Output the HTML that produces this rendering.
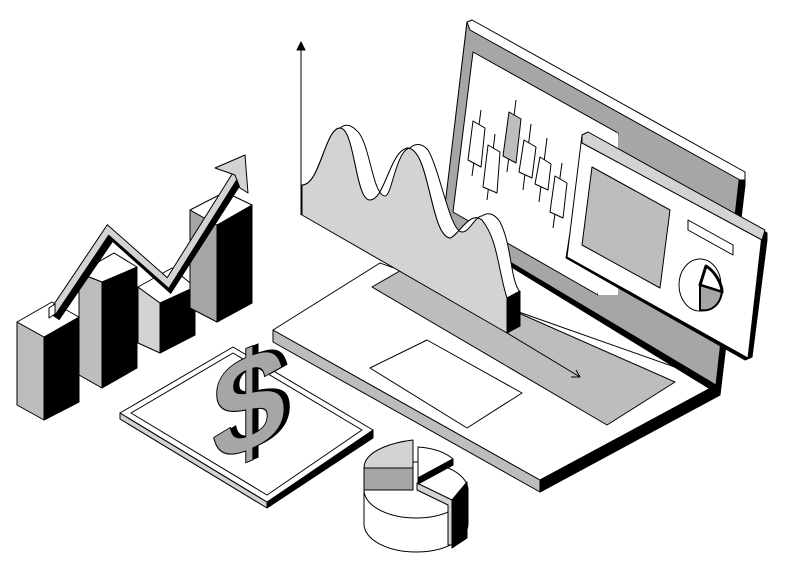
<!DOCTYPE html>
<html><head><style>html,body{margin:0;padding:0;background:#fff}svg{display:block}</style></head>
<body>
<svg width="785" height="573" viewBox="0 0 785 573" xmlns="http://www.w3.org/2000/svg" stroke="#000" stroke-width="1" stroke-linejoin="round">
<!-- laptop base -->
<polygon points="273,330 540,480 540,492 273,342" fill="#bdbdbd"/>
<polygon points="540,480 720,383 720,395 540,492" fill="#000"/>
<polygon points="273,330 380,263 720,383 540,480" fill="#fff"/>
<!-- screen back -->
<polygon points="467,22 745,175 745,185 720,395 443,225" fill="#000"/>
<polygon points="467,22 740,172 716,385 443,222" fill="#a6a6a6"/>
<polygon points="467,22 472,20 745,172 745,180 740,180 470,30" fill="#fff"/>
<!-- inner screen -->
<polygon points="473,52 618,133 598,295 453,212" fill="#fff"/>
<!-- candles -->
<g fill="#fff">
<line x1="481" y1="110" x2="472" y2="176"/><polygon points="473,121 485,128 481,167 468,160"/>
<line x1="495" y1="134" x2="487" y2="200"/><polygon points="488,145 500,152 497,193 483,187"/>
<line x1="516" y1="100" x2="507" y2="172"/><polygon points="509,112 521,119 516,163 503,156" fill="#bdbdbd"/>
<line x1="531" y1="124" x2="523" y2="190"/><polygon points="524,140 536,147 532,178 519,172"/>
<line x1="547" y1="138" x2="539" y2="202"/><polygon points="540,157 551,164 548,190 535,184"/>
<line x1="562" y1="163" x2="553" y2="228"/><polygon points="555,176 567,183 563,218 550,212"/>
</g>
<!-- keyboard -->
<polygon points="372,287 410,265 675,382 607,425" fill="#bdbdbd"/>
<!-- touchpad -->
<polygon points="370,368 427,340 522,393 467,428" fill="#fff"/>
<!-- wave panel -->
<path d="M302,215 L507,333 L507,298 C500,270 498,240 482,220 C470,210 458,236 450,238 C430,235 430,150 408,148 C390,150 385,200 370,200 C355,200 355,128 340,128 C325,128 320,185 302,185 Z" fill="#d3d3d3"/>
<path d="M302,185 C320,185 325,128 340,128 C345,124 350,124 356,130 C370,140 372,195 385,196 C392,196 396,150 410,148 C415,143 422,143 428,150 C440,170 450,232 462,232 C470,232 475,216 482,216 C488,212 494,213 500,222 C512,245 510,280 520,292 L507,298 C498,270 498,240 482,220 C470,210 458,236 450,238 C430,235 430,150 408,148 C390,150 385,200 370,200 C355,200 355,128 340,128 C325,128 320,185 302,185 Z" fill="#fff"/>
<polygon points="507,298 520,291 520,326 507,333" fill="#000"/>
<line x1="301" y1="215" x2="301" y2="48"/>
<polygon points="301,42 297,50 305,50" fill="#000"/>
<line x1="507" y1="333" x2="580" y2="377"/>
<polyline points="571,377 580,377 576,370" fill="none"/>
<!-- floating card -->
<polygon points="598,130 618,133 618,295 598,295" fill="#fff" stroke="none"/>
<polygon points="586,133 767,233 767,240 752,357 745,360 566,258" fill="#000"/>
<polygon points="582,135 762,235 748,358 567,257" fill="#fff"/>
<polygon points="582,135 588,132 765,230 762,240 582,143" fill="#d3d3d3"/>
<polygon points="592,167 670,210 660,288 582,245" fill="#bdbdbd"/>
<polygon points="688,220 733,245 733,255 688,230" fill="#fff"/>
<ellipse cx="700" cy="285" rx="21" ry="26" fill="#fff"/>
<path d="M700,285 L706,266 C716,272 722,285 722,292 Z" fill="#fff" stroke-width="3"/>
<path d="M700,285 L722,292 C720,306 710,312 700,310 Z" fill="#a6a6a6" stroke-width="2"/>
<!-- bar chart -->
<g>
<polygon points="17,322 44,337 44,420 17,405" fill="#bdbdbd"/><polygon points="44,337 79,317 79,402 44,420" fill="#000"/><polygon points="17,322 52,302 79,317 44,337" fill="#fff"/>
<polygon points="79,273 102,282 102,388 79,375" fill="#bdbdbd"/><polygon points="102,282 137,267 137,368 102,388" fill="#000"/><polygon points="79,273 114,253 137,267 102,282" fill="#fff"/>
<polygon points="138,287 160,303 160,353 138,343" fill="#d3d3d3"/><polygon points="160,303 195,287 195,335 160,353" fill="#000"/><polygon points="138,287 172,268 195,287 160,303" fill="#fff"/>
<polygon points="190,210 217,225 217,322 190,308" fill="#a6a6a6"/><polygon points="217,225 252,205 252,303 217,322" fill="#000"/><polygon points="190,210 225,192 252,205 217,225" fill="#fff"/>
</g>
<!-- trend arrow -->
<polyline points="56,318 112,236 170,288 238,182" fill="none" stroke="#000" stroke-width="8" stroke-linejoin="miter"/>
<polyline points="53,312 108,230 168,283 235,176" fill="none" stroke="#000" stroke-width="8" stroke-linejoin="miter"/>
<polyline points="53,312 108,230 168,283 235,176" fill="none" stroke="#d3d3d3" stroke-width="6" stroke-linejoin="miter"/>
<polygon points="49,308 55,304 55,314 49,318" fill="#fff"/>
<polygon points="215,168 245,155 248,193 240,188 235,175" fill="#d3d3d3"/>
<!-- dollar tray -->
<polygon points="120,413 267,502 267,508 120,419" fill="#d3d3d3"/>
<polygon points="267,502 373,430 373,438 267,508" fill="#000"/>
<polygon points="120,413 233,347 373,430 267,502" fill="#fff"/>
<polygon points="131,413 233,353 362,430 267,495" fill="none"/>
<g transform="translate(212,466) skewY(-22) scale(0.95,1)">
<text x="6" y="0" font-family="Liberation Sans, sans-serif" font-weight="bold" font-size="140" fill="#000" stroke="none">$</text>
<text x="0" y="0" font-family="Liberation Sans, sans-serif" font-weight="bold" font-size="140" fill="#a6a6a6" stroke="#000" stroke-width="1">$</text>
</g>
<!-- pie -->
<path d="M364,490 L364,524 A52,28 0 0 0 468,524 L468,490 Z" fill="#fff"/>
<ellipse cx="416" cy="490" rx="52" ry="28" fill="#fff"/>
<polygon points="452,500 467,482 467,538 452,548" fill="#000"/>
<polygon points="417,483 452,500 452,545 448,545 448,505 417,490" fill="#d3d3d3"/>
<polygon points="364,468 413,468 413,490 364,490" fill="#a6a6a6"/>
<path d="M364,468 C364,450 395,442 413,440 L413,468 Z" fill="#d3d3d3"/>
<path d="M418,447 C432,448 445,452 453,459 L418,478 Z" fill="#fff"/>
<polygon points="418,478 453,459 453,465 418,484" fill="#000"/>
</svg>
</body></html>
